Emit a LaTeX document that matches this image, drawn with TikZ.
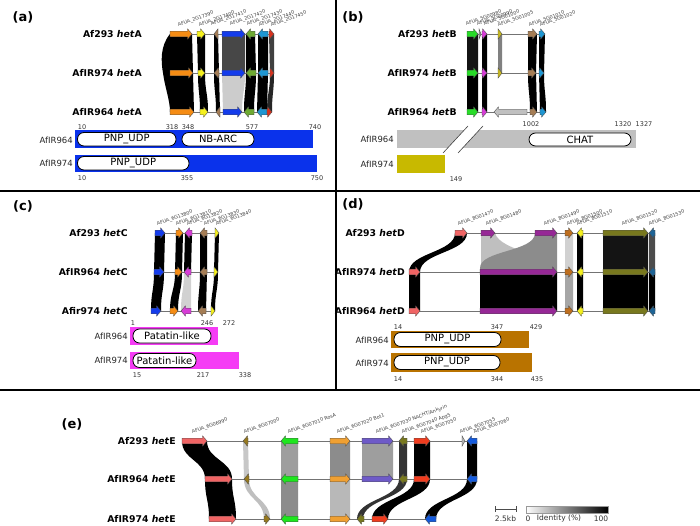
\documentclass[tikz,border=0pt]{standalone}
\usepackage{fontspec}
\setmainfont{DejaVu Sans}
\definecolor{cOr}{RGB}{245,140,20}
\definecolor{cYe}{RGB}{245,240,30}
\definecolor{cBr}{RGB}{165,125,85}
\definecolor{cBl}{RGB}{20,60,235}
\definecolor{cGrA}{RGB}{110,170,50}
\definecolor{cCy}{RGB}{30,150,210}
\definecolor{cRd}{RGB}{215,50,30}
\definecolor{cGrB}{RGB}{40,220,40}
\definecolor{cMg}{RGB}{215,60,215}
\definecolor{cOl}{RGB}{200,185,30}
\definecolor{cSal}{RGB}{240,100,100}
\definecolor{cPu}{RGB}{150,40,150}
\definecolor{cBrD}{RGB}{190,110,30}
\definecolor{cOlD}{RGB}{120,120,30}
\definecolor{cTe}{RGB}{30,100,150}
\definecolor{cGrE}{RGB}{30,230,30}
\definecolor{cOrE}{RGB}{240,160,50}
\definecolor{cPuE}{RGB}{110,90,200}
\definecolor{cOlE}{RGB}{150,120,30}
\definecolor{cRdE}{RGB}{240,60,30}
\definecolor{cBlE}{RGB}{20,90,220}
\definecolor{barBl}{RGB}{10,50,235}
\definecolor{barGy}{RGB}{192,192,192}
\definecolor{barYe}{RGB}{200,185,0}
\definecolor{barMg}{RGB}{245,60,245}
\definecolor{barBr}{RGB}{185,115,0}
\tikzset{
  gene/.style={draw=black!70, line width=0.35pt},
  track/.style={draw=black!55, line width=0.6pt},
  glab/.style={font=\fontsize{4.8}{5}\selectfont, text=black!75, rotate=20, anchor=south west, inner sep=0pt},
  rowlab/.style={font=\bfseries\fontsize{9.3}{10}\selectfont, anchor=east, inner sep=0pt},
  plab/.style={font=\bfseries\fontsize{13}{14}\selectfont, inner sep=0pt},
  numlab/.style={font=\fontsize{6.5}{7}\selectfont, text=black!80, inner sep=0pt},
  dlab/.style={font=\fontsize{8.5}{9}\selectfont, text=black!85, anchor=east, inner sep=0pt},
  pilltext/.style={font=\fontsize{10}{10}\selectfont, inner sep=0pt},
  pillbox/.style={fill=white, draw=black, line width=0.8pt, rounded corners=6.5pt},
  sep/.style={draw=black, line width=1.4pt}
}
% right-pointing gene: x1 x2 y colour
\newcommand\gR[4]{\pgfmathsetmacro\hx{max(#1,#2-4.5)}%
  \draw[gene,fill=#4] (#1,#3-2.8)--(\hx,#3-2.8)--(\hx,#3-5.2)--(#2,#3)--(\hx,#3+5.2)--(\hx,#3+2.8)--(#1,#3+2.8)--cycle;}
% left-pointing gene
\newcommand\gL[4]{\pgfmathsetmacro\hx{min(#2,#1+4.5)}%
  \draw[gene,fill=#4] (#2,#3-2.8)--(\hx,#3-2.8)--(\hx,#3-5.2)--(#1,#3)--(\hx,#3+5.2)--(\hx,#3+2.8)--(#2,#3+2.8)--cycle;}
% link: a1 a2 y1 b1 b2 y2 colour
\newcommand\lk[7]{\pgfmathsetmacro\ym{(#3+#6)/2}%
  \fill[#7] (#1,#3) .. controls (#1,\ym) and (#4,\ym) .. (#4,#6) -- (#5,#6) .. controls (#5,\ym) and (#2,\ym) .. (#2,#3) -- cycle;}
% pill: x1 x2 y1 y2 text name
\newcommand\pill[6]{\draw[pillbox] (#1,#3) rectangle (#2,#4);
  \node[pilltext] (#6) at ({(#1+#2)/2},{(#3+#4)/2}) {#5};}
\begin{document}
\begin{tikzpicture}[x=1pt,y=-1pt]
\useasboundingbox (0,0) rectangle (700,526);
\fill[white] (0,0) rectangle (700,526);
% separators
\draw[sep] (0,191) -- (700,191);
\draw[sep] (0,390) -- (700,390);
\draw[sep] (336,0) -- (336,390);
% panel letters
\node[plab] (pa) at (23,17) {(a)};
\node[plab] (pb) at (353,17) {(b)};
\node[plab] (pc) at (23,206) {(c)};
\node[plab] (pd) at (353,204) {(d)};
\node[plab] (pe) at (72,424) {(e)};

%%%%%%%%%%%%%%%% (a)
\fill[black] (170,34) .. controls (160,46) and (161,62) .. (163,73) -- (193,73) -- (192,34) -- cycle;
\fill[black] (163,73) .. controls (165,88) and (170,100) .. (170,112) -- (194,112) -- (193,73) -- cycle;
\lk{197}{205}{34}{198}{205}{73}{black}
\lk{214}{218}{34}{214}{219}{73}{black}
\lk{222}{245}{34}{222}{245}{73}{black!72}
\lk{246}{255}{34}{246}{256}{73}{black}
\lk{258}{268}{34}{258}{268}{73}{black}
\lk{269}{274}{34}{270}{274}{73}{black!75}
\lk{198}{205}{73}{200}{208}{112}{black}
\lk{214}{219}{73}{216}{220}{112}{black}
\lk{222}{245}{73}{223}{242}{112}{black!20}
\lk{246}{256}{73}{244}{254}{112}{black}
\lk{258}{268}{73}{257}{267}{112}{black}
\lk{270}{274}{73}{267}{272}{112}{black!85}
\draw[track] (170,34) -- (274,34);
\draw[track] (170,73) -- (274,73);
\draw[track] (170,112) -- (272,112);
\gR{170}{192}{34}{cOr}\gR{197}{205}{34}{cYe}\gL{214}{218}{34}{cBr}\gR{222}{245}{34}{cBl}
\gL{246}{255}{34}{cGrA}\gL{258}{268}{34}{cCy}\gR{269}{274}{34}{cRd}
\gR{170}{193}{73}{cOr}\gR{198}{205}{73}{cYe}\gL{214}{219}{73}{cBr}\gR{222}{245}{73}{cBl}
\gL{246}{256}{73}{cGrA}\gL{258}{268}{73}{cCy}\gR{270}{274}{73}{cRd}
\gR{170}{194}{112}{cOr}\gR{200}{208}{112}{cYe}\gL{216}{220}{112}{cBr}\gR{223}{242}{112}{cBl}
\gL{244}{254}{112}{cGrA}\gL{257}{267}{112}{cCy}\gR{267}{272}{112}{cRd}
\node[glab] (ga1) at (179,28) {AFUA\_2G17390};
\node[glab] (ga2) at (200,28) {AFUA\_2G17400};
\node[glab] (ga3) at (212,27) {AFUA\_2G17410};
\node[glab] (ga4) at (231,27) {AFUA\_2G17420};
\node[glab] (ga5) at (248,27) {AFUA\_2G17430};
\node[glab] (ga6) at (260,28) {AFUA\_2G17440};
\node[glab] (ga7) at (272,28) {AFUA\_2G17450};
\node[rowlab] (ra1) at (142,34) {Af293 \textit{het}A};
\node[rowlab] (ra2) at (142,73) {AfIR974 \textit{het}A};
\node[rowlab] (ra3) at (142,112) {AfIR964 \textit{het}A};
% domains (a)
\node[numlab] (na1) at (82,127) {10};
\node[numlab] (na2) at (172,127) {318};
\node[numlab] (na3) at (188,127) {348};
\node[numlab] (na4) at (252,127) {577};
\node[numlab] (na5) at (315,127) {740};
\fill[barBl] (75,130.5) rectangle (313,148);
\pill{77.5}{176}{132.5}{146}{PNP\_UDP}{pa1}
\pill{182}{254}{132.5}{146}{NB-ARC}{pa2}
\fill[barBl] (75,155) rectangle (317,172);
\pill{77.5}{189}{156.5}{170}{PNP\_UDP}{pa3}
\node[dlab] (da1) at (73,140) {AfIR964};
\node[dlab] (da2) at (73,163) {AfIR974};
\node[numlab] (na6) at (82,178) {10};
\node[numlab] (na7) at (187,178) {355};
\node[numlab] (na8) at (317,178) {750};

%%%%%%%%%%%%%%%% (b)
\lk{467}{478}{34}{467}{478}{73}{black!92}
\lk{482}{487}{34}{482}{487}{73}{black}
\lk{498}{502}{34}{498}{502}{73}{black!50}
\lk{528}{537}{34}{528}{536}{73}{black}
\lk{539}{545}{34}{539}{544}{73}{black}
\lk{467}{478}{73}{467}{478}{112}{black}
\lk{482}{487}{73}{482}{487}{112}{black}
\lk{528}{536}{73}{530}{537}{112}{black}
\lk{539}{544}{73}{540}{546}{112}{black}
\draw[track] (467,34) -- (545,34);
\draw[track] (467,73) -- (544,73);
\draw[track] (467,112) -- (546,112);
\gR{467}{478}{34}{cGrB}\gR{479}{481}{34}{black!40}\gR{482}{487}{34}{cMg}\gR{498}{502}{34}{cOl}\gR{528}{537}{34}{cBr}\gR{539}{545}{34}{cCy}
\gR{467}{478}{73}{cGrB}\gR{482}{487}{73}{cMg}\gR{498}{502}{73}{cOl}\gR{528}{536}{73}{cBr}\gR{539}{544}{73}{cCy}
\gR{467}{478}{112}{cGrB}\gR{482}{487}{112}{cMg}\gL{494}{527}{112}{barGy}\gR{530}{537}{112}{cBr}\gR{540}{546}{112}{cCy}
\node[glab] (gb1) at (467,27) {AFUA\_5G00980};
\node[glab] (gb2) at (478,27) {AFUA\_5G00990};
\node[glab] (gb3) at (485,27) {AFUA\_5G01000};
\node[glab] (gb4) at (499,28) {AFUA\_5G01005};
\node[glab] (gb5) at (530,28) {AFUA\_5G01010};
\node[glab] (gb6) at (541,28) {AFUA\_5G01020};
\node[rowlab] (rb1) at (457,34) {Af293 \textit{het}B};
\node[rowlab] (rb2) at (457,73) {AfIR974 \textit{het}B};
\node[rowlab] (rb3) at (457,112) {AfIR964 \textit{het}B};
\node[numlab] (nb1) at (531,124) {1002};
\node[numlab] (nb2) at (623,124) {1320};
\node[numlab] (nb3) at (644,124) {1327};
\fill[barGy] (397,130) rectangle (636,148);
\pill{529}{631}{133}{146}{CHAT}{pb1}
\fill[barYe] (397,155) rectangle (445,173);
\fill[white] (468,126) -- (483,126) -- (458,153) -- (443,153) -- cycle;
\draw[black!75, line width=0.6pt] (468,126) -- (443,153);
\draw[black!75, line width=0.6pt] (483,126) -- (458,153);
\node[dlab] (db1) at (394,139) {AfIR964};
\node[dlab] (db2) at (394,164) {AfIR974};
\node[numlab] (nb4) at (456,179) {149};

%%%%%%%%%%%%%%%% (c)
\lk{155}{165}{233}{154}{164}{272}{black}
\lk{176}{183}{233}{175}{182}{272}{black}
\lk{185}{192}{233}{184}{191}{272}{black}
\lk{200}{207}{233}{200}{207}{272}{black}
\lk{215}{219}{233}{214}{218}{272}{black}
\lk{154}{164}{272}{151}{161}{311}{black}
\lk{175}{182}{272}{170}{178}{311}{black}
\lk{184}{191}{272}{181}{191}{311}{black!18}
\lk{200}{207}{272}{198}{206}{311}{black}
\lk{214}{218}{272}{211}{215}{311}{black}
\draw[track] (155,233) -- (219,233);
\draw[track] (154,272) -- (218,272);
\draw[track] (151,311) -- (215,311);
\gR{155}{165}{233}{cBl}\gR{176}{183}{233}{cOr}\gL{185}{192}{233}{cMg}\gL{200}{207}{233}{cBr}\gR{215}{219}{233}{cYe}
\gR{154}{164}{272}{cBl}\gR{175}{182}{272}{cOr}\gL{184}{191}{272}{cMg}\gL{200}{207}{272}{cBr}\gR{214}{218}{272}{cYe}
\gR{151}{161}{311}{cBl}\gR{170}{178}{311}{cOr}\gL{181}{191}{311}{cMg}\gL{198}{206}{311}{cBr}\gR{211}{215}{311}{cYe}
\node[glab] (gc1) at (158,227) {AFUA\_6G13800};
\node[glab] (gc2) at (177,227) {AFUA\_6G13810};
\node[glab] (gc3) at (188,227) {AFUA\_6G13820};
\node[glab] (gc4) at (205,227) {AFUA\_6G13830};
\node[glab] (gc5) at (217,227) {AFUA\_6G13840};
\node[rowlab] (rc1) at (128,233) {Af293 \textit{het}C};
\node[rowlab] (rc2) at (128,272) {AfIR964 \textit{het}C};
\node[rowlab] (rc3) at (128,311) {Afir974 \textit{het}C};
\node[numlab] (nc1) at (133,323) {1};
\node[numlab] (nc2) at (207,323) {246};
\node[numlab] (nc3) at (229,323) {272};
\fill[barMg] (130,327) rectangle (218,344.5);
\pill{133}{211}{329}{343}{Patatin-like}{pc1}
\fill[barMg] (130,352) rectangle (239,369);
\pill{133}{196}{353.5}{367.5}{Patatin-like}{pc2}
\node[dlab] (dc1) at (128,336) {AfIR964};
\node[dlab] (dc2) at (128,360) {AfIR974};
\node[numlab] (nc4) at (137,375) {15};
\node[numlab] (nc5) at (203,375) {217};
\node[numlab] (nc6) at (245,375) {338};

%%%%%%%%%%%%%%%% (d)
\lk{455}{467}{233}{409}{420}{272}{black}
\fill[black!25] (481,233) -- (481,272) -- (557,272) .. controls (557,255) and (500,252) .. (495,233) -- cycle;
\fill[black!45] (535,233) .. controls (535,252) and (480,250) .. (480,268) -- (480,272) -- (557,272) -- (557,233) -- cycle;
\lk{565}{573}{233}{565}{573}{272}{black!18}
\lk{577}{583}{233}{577}{583}{272}{black}
\lk{603}{648}{233}{603}{648}{272}{black!92}
\lk{649}{655}{233}{649}{655}{272}{black!70}
\lk{409}{420}{272}{409}{420}{311}{black}
\lk{480}{557}{272}{480}{557}{311}{black}
\lk{565}{573}{272}{565}{573}{311}{black!35}
\lk{577}{583}{272}{577}{583}{311}{black}
\lk{603}{648}{272}{603}{648}{311}{black}
\lk{649}{655}{272}{649}{655}{311}{black}
\draw[track] (455,233) -- (655,233);
\draw[track] (409,272) -- (655,272);
\draw[track] (409,311) -- (655,311);
\gR{455}{467}{233}{cSal}\gR{481}{495}{233}{cPu}\gR{535}{557}{233}{cPu}\gR{565}{573}{233}{cBrD}\gL{577}{583}{233}{cYe}\gR{603}{648}{233}{cOlD}\gL{649}{655}{233}{cTe}
\gR{409}{420}{272}{cSal}\gR{480}{557}{272}{cPu}\gR{565}{573}{272}{cBrD}\gL{577}{583}{272}{cYe}\gR{603}{648}{272}{cOlD}\gL{649}{655}{272}{cTe}
\gR{409}{420}{311}{cSal}\gR{480}{557}{311}{cPu}\gR{565}{573}{311}{cBrD}\gL{577}{583}{311}{cYe}\gR{603}{648}{311}{cOlD}\gL{649}{655}{311}{cTe}
\node[glab] (gd1) at (459,227) {AFUA\_8G01470};
\node[glab] (gd2) at (487,227) {AFUA\_8G01480};
\node[glab] (gd3) at (545,227) {AFUA\_8G01490};
\node[glab] (gd4) at (568,227) {AFUA\_8G01500};
\node[glab] (gd5) at (578,227) {AFUA\_8G01510};
\node[glab] (gd6) at (623,227) {AFUA\_8G01520};
\node[glab] (gd7) at (650,227) {AFUA\_8G01530};
\node[rowlab] (rd1) at (405,233) {Af293 \textit{het}D};
\node[rowlab] (rd2) at (405,272) {AfIR974 \textit{het}D};
\node[rowlab] (rd3) at (405,311) {AfIR964 \textit{het}D};
\node[numlab] (nd1) at (398,327) {14};
\node[numlab] (nd2) at (497,327) {347};
\node[numlab] (nd3) at (536,327) {429};
\fill[barBr] (391,331) rectangle (529,348);
\pill{394}{501}{332.5}{346.5}{PNP\_UDP}{pd1}
\fill[barBr] (391,353) rectangle (532,372);
\pill{394}{500}{355.5}{369.5}{PNP\_UDP}{pd2}
\node[dlab] (dd1) at (389,340) {AfIR964};
\node[dlab] (dd2) at (389,363) {AfIR974};
\node[numlab] (nd4) at (398,379) {14};
\node[numlab] (nd5) at (497,379) {344};
\node[numlab] (nd6) at (537,379) {435};

%%%%%%%%%%%%%%%% (e)
\lk{182}{207}{441}{205}{232}{479}{black}
\lk{243}{248}{441}{244}{249}{479}{black!22}
\lk{281}{298}{441}{281}{298}{479}{black!38}
\lk{330}{350}{441}{330}{350}{479}{black!45}
\lk{362}{393}{441}{362}{393}{479}{black!38}
\lk{399}{407}{441}{399}{407}{479}{black!80}
\lk{414}{430}{441}{414}{430}{479}{black}
\lk{467}{477}{441}{467}{477}{479}{black}
\lk{205}{232}{479}{209}{236}{519}{black}
\lk{244}{249}{479}{264}{270}{519}{black!25}
\lk{281}{298}{479}{281}{298}{519}{black!45}
\lk{330}{350}{479}{330}{350}{519}{black!28}
\lk{399}{407}{479}{357}{363}{519}{black!80}
\lk{414}{430}{479}{372}{388}{519}{black}
\lk{467}{477}{479}{425}{436}{519}{black}
\draw[track] (182,441) -- (477,441);
\draw[track] (205,479) -- (477,479);
\draw[track] (209,519) -- (436,519);
\gR{182}{207}{441}{cSal}\gL{243}{248}{441}{cOlE}\gL{281}{298}{441}{cGrE}\gR{330}{350}{441}{cOrE}\gR{362}{393}{441}{cPuE}\gL{399}{407}{441}{cOlD}\gR{414}{430}{441}{cRdE}\gR{462}{465}{441}{black!30}\gL{467}{477}{441}{cBlE}
\gR{205}{232}{479}{cSal}\gL{244}{249}{479}{cOlE}\gL{281}{298}{479}{cGrE}\gR{330}{350}{479}{cOrE}\gR{362}{393}{479}{cPuE}\gL{399}{407}{479}{cOlD}\gR{414}{430}{479}{cRdE}\gL{467}{477}{479}{cBlE}
\gR{209}{236}{519}{cSal}\gR{264}{270}{519}{cOlE}\gL{281}{298}{519}{cGrE}\gR{330}{350}{519}{cOrE}\gL{357}{364}{519}{cOlD}\gR{372}{388}{519}{cRdE}\gL{425}{436}{519}{cBlE}
\node[glab] (ge1) at (193,435) {AFUA\_6G06990};
\node[glab] (ge2) at (245,435) {AFUA\_6G07000};
\node[glab] (ge3) at (289,435) {AFUA\_6G07010 RosA};
\node[glab] (ge4) at (338,435) {AFUA\_6G07020 Bot1};
\node[glab] (ge5) at (377,435) {AFUA\_6G07030 NACHT/Ankyrin};
\node[glab] (ge6) at (403,435) {AFUA\_6G07040 Apg5};
\node[glab] (ge7) at (422,435) {AFUA\_6G07050};
\node[glab] (ge8) at (461,435) {AFUA\_6G07055};
\node[glab] (ge9) at (475,435) {AFUA\_6G07060};
\node[rowlab] (re1) at (176,441) {Af293 \textit{het}E};
\node[rowlab] (re2) at (176,479) {AfIR964 \textit{het}E};
\node[rowlab] (re3) at (176,519) {AfIR974 \textit{het}E};
% legend
\coordinate (sb1) at (495,509);
\coordinate (sb2) at (516,509);
\draw[black!70, line width=0.6pt] (sb1) -- (sb2);
\draw[black!70, line width=0.6pt] ([yshift=3pt]sb1) -- ([yshift=-3pt]sb1);
\draw[black!70, line width=0.6pt] ([yshift=3pt]sb2) -- ([yshift=-3pt]sb2);
\node[numlab, font=\fontsize{7.5}{8}\selectfont] (sbl) at (505.5,518.5) {2.5kb};
\shade[left color=white, right color=black] (526,506) rectangle (608,513);
\draw[black!40, line width=0.3pt] (526,506) rectangle (608,513);
\node[numlab, font=\fontsize{7.5}{8}\selectfont] (g0) at (528,518.5) {0};
\node[numlab, font=\fontsize{7.5}{8}\selectfont] (gid) at (559,518.5) {Identity (\%)};
\node[numlab, font=\fontsize{7.5}{8}\selectfont] (g100) at (601,518.5) {100};
\end{tikzpicture}
\end{document}
